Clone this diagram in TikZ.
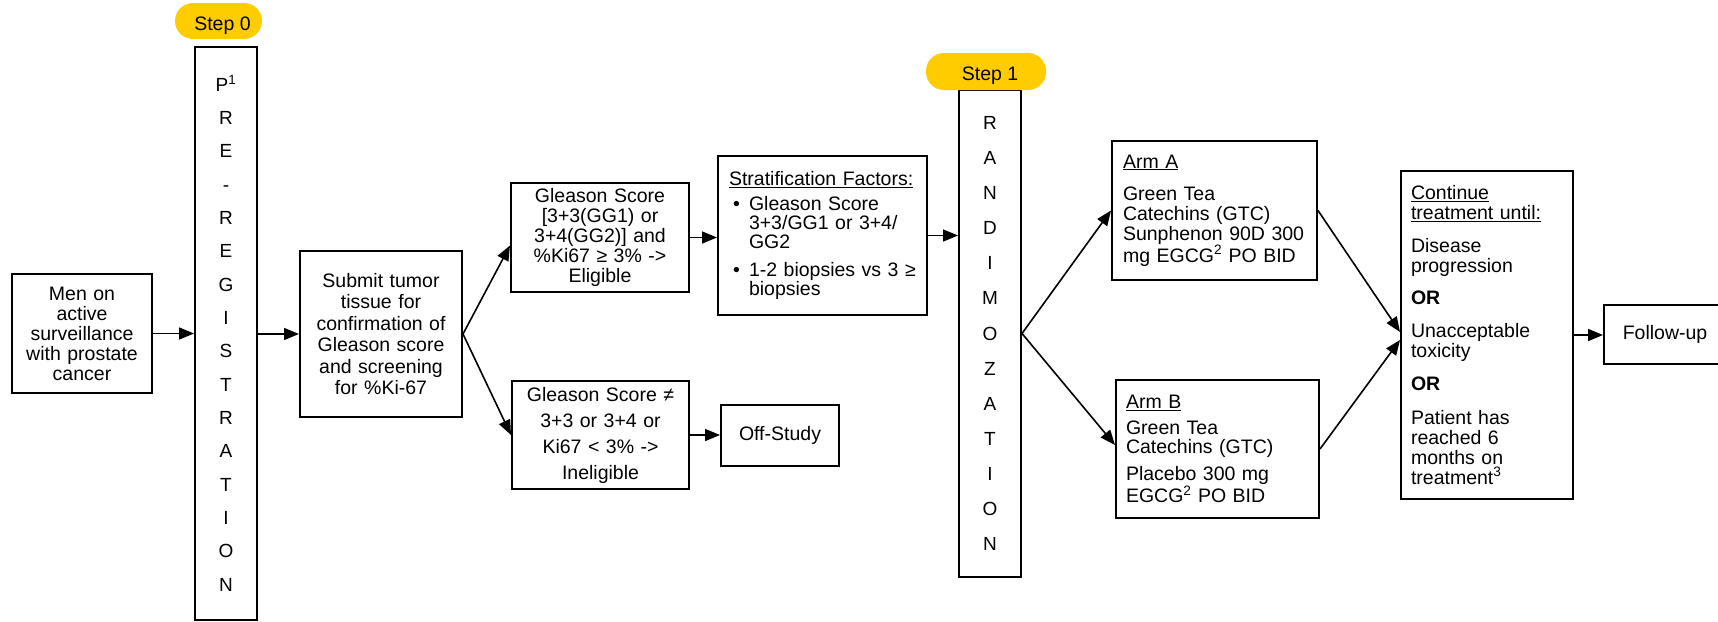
\documentclass[tikz,border=0pt]{standalone}
\usepackage{fontspec}
\setmainfont{Liberation Sans}
\usetikzlibrary{arrows.meta,calc}
\definecolor{pillyellow}{RGB}{255,204,0}
\begin{document}
\begin{tikzpicture}[x=1pt,y=-1pt,
  box/.style={draw=black, line width=2pt, inner sep=0pt, font=\fontsize{19.5}{20}\selectfont},
  cbox/.style={box, align=center},
  lbox/.style={box, align=left, inner xsep=10pt},
  stepbox/.style={fill=pillyellow, rounded corners=18pt, inner sep=0pt},
  steptext/.style={font=\fontsize{19.5}{20}\selectfont, xshift=4pt, yshift=-4.5pt},
  arr/.style={line width=1.6pt, -{Triangle[length=15pt,width=12pt]}}
]
\useasboundingbox (0,0) rectangle (1718,621);

% boxes
\node[cbox, text width=140pt, minimum width=140pt, minimum height=119pt] (men) at (82,333.5)
  {Men on\\active\\surveillance\\with prostate\\cancer};

\node[cbox, text width=62pt, minimum width=62pt, minimum height=573pt, font=\fontsize{19}{33.33}\selectfont] (prereg) at (226,333.5)
  {P\textsuperscript{1}\\R\\E\\-\\R\\E\\G\\I\\S\\T\\R\\A\\T\\I\\O\\N};

\node[cbox, text width=162pt, minimum width=162pt, minimum height=166pt, font=\fontsize{19.5}{21.5}\selectfont] (submit) at (381,334)
  {Submit tumor\\tissue for\\confirmation of\\Gleason score\\and screening\\for \%Ki-67};

\node[cbox, text width=178pt, minimum width=178pt, minimum height=109pt] (elig) at (600,237.5)
  {Gleason Score\\{[}3+3(GG1) or\\3+4(GG2)] and\\\%Ki67 ≥ 3\% ->\\Eligible};

\node[cbox, text width=177pt, minimum width=177pt, minimum height=108pt, font=\fontsize{19.5}{26}\selectfont] (inelig) at (600.5,435)
  {Gleason Score ≠\\3+3 or 3+4 or\\Ki67 < 3\% ->\\Ineligible};

\node[cbox, text width=118pt, minimum width=118pt, minimum height=61pt] (off) at (780,435.5) {Off-Study};

\node[lbox, inner xsep=11pt, text width=187pt, minimum width=209pt, minimum height=159pt, font=\fontsize{19.5}{19}\selectfont] (strat) at (822.5,235.5)
  {\underline{Stratification Factors:}\\[6pt]
   \hspace*{4pt}\makebox[16pt][l]{•}Gleason Score\\
   \hspace*{20pt}3+3/GG1 or 3+4/\\
   \hspace*{20pt}GG2\\[9pt]
   \hspace*{4pt}\makebox[16pt][l]{•}1-2 biopsies vs 3 ≥\\
   \hspace*{20pt}biopsies};

\node[cbox, text width=62pt, minimum width=62pt, minimum height=487pt, font=\fontsize{19}{35.08}\selectfont] (random) at (990,333.5)
  {R\\A\\N\\D\\I\\M\\O\\Z\\A\\T\\I\\O\\N};

\node[lbox, inner xsep=11pt, text width=183pt, minimum width=205pt, minimum height=139pt] (arma) at (1214.5,210.5)
  {\underline{Arm A}\\[12pt]Green Tea\\Catechins (GTC)\\Sunphenon 90D 300\\mg EGCG\textsuperscript{2} PO BID};

\node[lbox, text width=183pt, minimum width=203pt, minimum height=138pt, font=\fontsize{19.5}{19.5}\selectfont] (armb) at (1217.5,449)
  {\underline{Arm B}\\[6.5pt]Green Tea\\Catechins (GTC)\\[7.5pt]Placebo 300 mg\\EGCG\textsuperscript{2} PO BID};

\node[lbox, text width=152pt, minimum width=172pt, minimum height=328pt] (cont) at (1487,335)
  {\underline{Continue}\\\underline{treatment until:}\\[13pt]
   Disease\\progression\\[12pt]
   \textbf{OR}\\[13pt]
   Unacceptable\\toxicity\\[13pt]
   \textbf{OR}\\[14pt]
   Patient has\\reached 6\\months on\\treatment\textsuperscript{3}};

\node[cbox, text width=122pt, minimum width=122pt, minimum height=59pt] (follow) at (1665,334.5) {Follow-up};

% step labels
\node[stepbox, minimum width=87pt, minimum height=36pt, label={[steptext]center:Step 0}] (step0) at (218.5,21) {};
\node[stepbox, minimum width=120pt, minimum height=37pt, label={[steptext]center:Step 1}] (step1) at (986,71.5) {};

% connectors
\draw[arr] (men.east) -- (men.east -| prereg.west);
\draw[arr] (prereg.east |- submit.west) -- (submit.west);
\draw[arr] (submit.east) -- ([yshift=-8pt]elig.west);
\draw[arr] (submit.east) -- (inelig.west);
\draw[arr] (elig.east) -- (elig.east -| strat.west);
\draw[arr] (inelig.east) -- (inelig.east -| off.west);
\draw[arr] (strat.east) -- (strat.east -| random.west);
\draw[arr] (random.east) -- (arma.west);
\draw[arr] (random.east) -- ([yshift=4pt]armb.west);
\draw[arr] (arma.east) -- ([yshift=3pt]cont.west);
\draw[arr] (armb.east) -- ([yshift=-5pt]cont.west);
\draw[arr] (cont.east) -- (cont.east -| follow.west);
\end{tikzpicture}
\end{document}
